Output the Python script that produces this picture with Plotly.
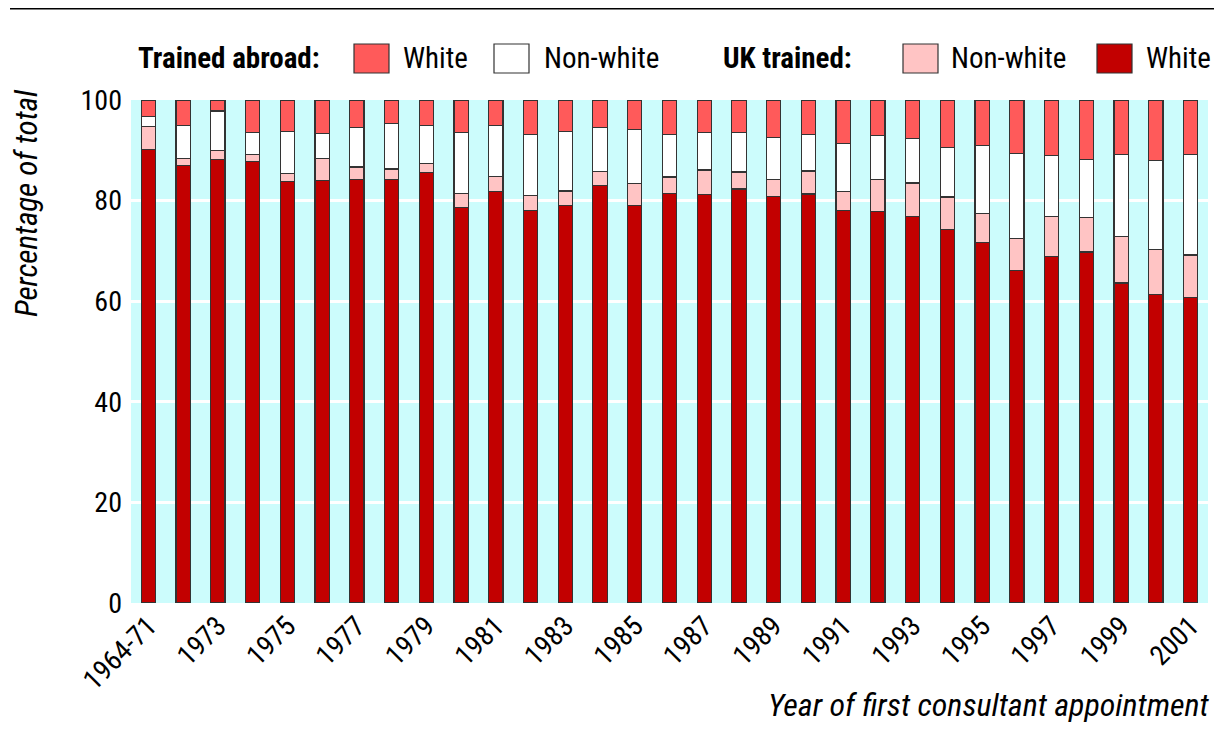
import plotly.graph_objects as go

categories = ["1964-71"] + [str(y) for y in range(1972, 2002)]

uk_white = [90.2, 86.9, 88.1, 87.8, 83.8, 84.0, 84.2, 84.2, 85.6, 78.7,
            81.8, 78.0, 79.0, 83.0, 79.1, 81.4, 81.2, 82.3, 80.8, 81.3,
            78.0, 77.8, 76.8, 74.3, 71.7, 66.1, 68.9, 69.8, 63.6, 61.4, 60.8]
uk_nonwhite_top = [94.7, 88.4, 90.0, 89.2, 85.4, 88.3, 86.7, 86.3, 87.3, 81.4,
                   84.8, 81.0, 81.9, 85.8, 83.4, 84.7, 86.1, 85.7, 84.2, 85.9,
                   81.8, 84.2, 83.5, 80.7, 77.5, 72.5, 76.8, 76.6, 72.8, 70.2, 69.2]
abroad_nonwhite_top = [96.8, 94.9, 97.8, 93.6, 93.8, 93.4, 94.5, 95.3, 95.0, 93.5,
                       94.9, 93.1, 93.7, 94.6, 94.2, 93.2, 93.5, 93.5, 92.5, 93.2,
                       91.3, 93.0, 92.3, 90.6, 91.0, 89.4, 88.9, 88.2, 89.1, 88.0, 89.1]

uk_nonwhite = [round(b - a, 2) for a, b in zip(uk_white, uk_nonwhite_top)]
abroad_nonwhite = [round(b - a, 2) for a, b in zip(uk_nonwhite_top, abroad_nonwhite_top)]
abroad_white = [round(100 - a, 2) for a in abroad_nonwhite_top]

tick_labels = categories[::2]

C_UKW = "#c20000"
C_UKNW = "#ffc4c4"
C_ABNW = "#ffffff"
C_ABW = "#ff5a5a"
FONT = "Roboto Condensed, Liberation Sans Narrow, sans-serif"
EDGE = "#333333"

fig = go.Figure()
for name, vals, col in [("UK trained: White", uk_white, C_UKW),
                        ("UK trained: Non-white", uk_nonwhite, C_UKNW),
                        ("Trained abroad: Non-white", abroad_nonwhite, C_ABNW),
                        ("Trained abroad: White", abroad_white, C_ABW)]:
    fig.add_trace(go.Bar(x=categories, y=vals, name=name, width=0.41,
                         marker=dict(color=col, line=dict(color=EDGE, width=1.2))))

# page has an 8px body margin: figure is sized to fit the window
OFF = 8
W, H = 1222 - OFF, 744 - OFF
# plot area in page pixels
L, R, T, B = 131, 1208, 100, 603
def px(x):
    return (x - L) / (R - L)
def py(y):
    return (B - y) / (B - T)

shapes = [dict(type="line", xref="paper", yref="paper", x0=px(10), x1=px(1216),
               y0=py(8), y1=py(8), line=dict(color="black", width=3))]
annotations = []
legend_items = [("Trained abroad:", 136, True, None),
                ("White", 401, False, (354, C_ABW)),
                ("Non-white", 542, False, (494, C_ABNW)),
                ("UK trained:", 721, True, None),
                ("Non-white", 949, False, (903, C_UKNW)),
                ("White", 1144, False, (1097, C_UKW))]
for text, x, bold, box in legend_items:
    annotations.append(dict(xref="paper", yref="paper", x=px(x), y=py(58),
                            xanchor="left", yanchor="middle", showarrow=False,
                            text=f"<b>{text}</b>" if bold else text,
                            font=dict(family=FONT, size=29, color="black")))
    if box:
        bx, col = box
        shapes.append(dict(type="rect", xref="paper", yref="paper",
                           x0=px(bx), x1=px(bx + 35), y0=py(73), y1=py(44),
                           fillcolor=col, line=dict(color=EDGE, width=1.2)))

annotations.append(dict(xref="paper", yref="paper", x=px(26), y=py(87),
                        xanchor="center", yanchor="top", textangle=-90, showarrow=False,
                        text="<i>Percentage of total</i>",
                        font=dict(family=FONT, size=31, color="black")))
annotations.append(dict(xref="paper", yref="paper", x=px(1212), y=py(705),
                        xanchor="right", yanchor="middle", showarrow=False,
                        text="<i>Year of first consultant appointment</i>",
                        font=dict(family=FONT, size=32, color="black")))

fig.update_layout(
    barmode="stack",
    width=W, height=H,
    margin=dict(l=L - OFF, r=W - (R - OFF), t=T - OFF, b=H - (B - OFF), pad=0),
    paper_bgcolor="white",
    plot_bgcolor="#ccfcfc",
    showlegend=False,
    shapes=shapes,
    annotations=annotations,
    font=dict(family=FONT, size=28, color="black"),
    xaxis=dict(type="category", tickmode="array", tickvals=tick_labels, ticktext=tick_labels,
               tickangle=-45, showgrid=False, ticks="", tickfont=dict(size=28)),
    yaxis=dict(range=[0, 100], tickvals=[0, 20, 40, 60, 80, 100], showgrid=True,
               gridcolor="white", gridwidth=3, zeroline=False, ticks="",
               tickfont=dict(size=28), ticklabelstandoff=8),
)

fig.write_html("out.html")
